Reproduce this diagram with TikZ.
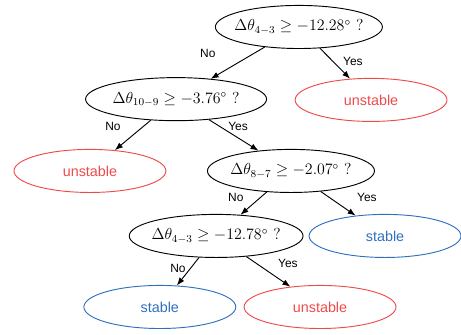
\documentclass[tikz,border=0pt]{standalone}
\usepackage{amsmath, amssymb}
\usepackage{fontspec}
\setsansfont{Liberation Sans}
\usepackage{tikz}
\usetikzlibrary{shapes.geometric, arrows.meta, positioning}

\definecolor{unstred}{HTML}{EE4A4A}
\definecolor{stblue}{HTML}{2F6FC0}

\newcommand{\zbox}[1]{\makebox[0pt]{#1}}

\tikzset{
    test/.style={ellipse, draw, line width=0.7pt, minimum height=1.14cm,
        inner sep=0pt, font=\fontsize{12}{14}\selectfont},
    leaf/.style={ellipse, draw, line width=0.7pt, minimum width=4.02cm,
        minimum height=1.14cm, inner sep=0pt,
        font=\sffamily\fontsize{10.8}{13}\selectfont},
    bad/.style={leaf, draw=unstred, text=unstred},
    good/.style={leaf, draw=stblue, text=stblue},
    ans/.style={font=\sffamily\fontsize{9}{11}\selectfont, inner sep=0pt}
}

\begin{document}
\begin{tikzpicture}[>={Latex[length=6pt,width=4.5pt]}, line width=0.7pt]
    \useasboundingbox (0,0) rectangle (12.2,8.864);
    % decisions
    \node[test, minimum width=4.42cm] (Q1) at (7.91,8.15) {\zbox{$\Delta\theta_{4-3} \geq -12.28^\circ$ ?}};
    \node[test, minimum width=4.79cm] (Q2) at (4.66,6.24) {\zbox{$\Delta\theta_{10-9} \geq -3.76^\circ$ ?}};
    \node[test, minimum width=4.42cm] (Q3) at (7.70,4.34) {\zbox{$\Delta\theta_{8-7} \geq -2.07^\circ$ ?}};
    \node[test, minimum width=4.60cm] (Q4) at (5.72,2.62) {\zbox{$\Delta\theta_{4-3} \geq -12.78^\circ$ ?}};
    % outcomes
    \node[bad] (U1) at (9.82,6.22) {unstable};
    \node[bad] (U2) at (2.38,4.34) {unstable};
    \node[good] (S1) at (10.19,2.62) {stable};
    \node[good] (S2) at (4.23,0.74) {stable};
    \node[bad] (U3) at (8.47,0.74) {unstable};
    % branches
    \draw[->] (Q1) -- (Q2);
    \draw[->] (Q1) -- (U1);
    \draw[->] (Q2) -- (U2);
    \draw[->] (Q2) -- (Q3);
    \draw[->] (Q3) -- (Q4);
    \draw[->] (Q3) -- (S1);
    \draw[->] (Q4) -- (S2);
    \draw[->] (Q4) -- (U3);
    % branch labels
    \node[ans] (N1) at (5.50,7.46) {No};
    \node[ans] (Y1) at (9.34,7.25) {Yes};
    \node[ans] (N2) at (2.99,5.53) {No};
    \node[ans] (Y2) at (6.30,5.53) {Yes};
    \node[ans] (N3) at (6.24,3.63) {No};
    \node[ans] (Y3) at (9.71,3.63) {Yes};
    \node[ans] (N4) at (4.71,1.75) {No};
    \node[ans] (Y4) at (7.62,1.88) {Yes};
\end{tikzpicture}
\end{document}
